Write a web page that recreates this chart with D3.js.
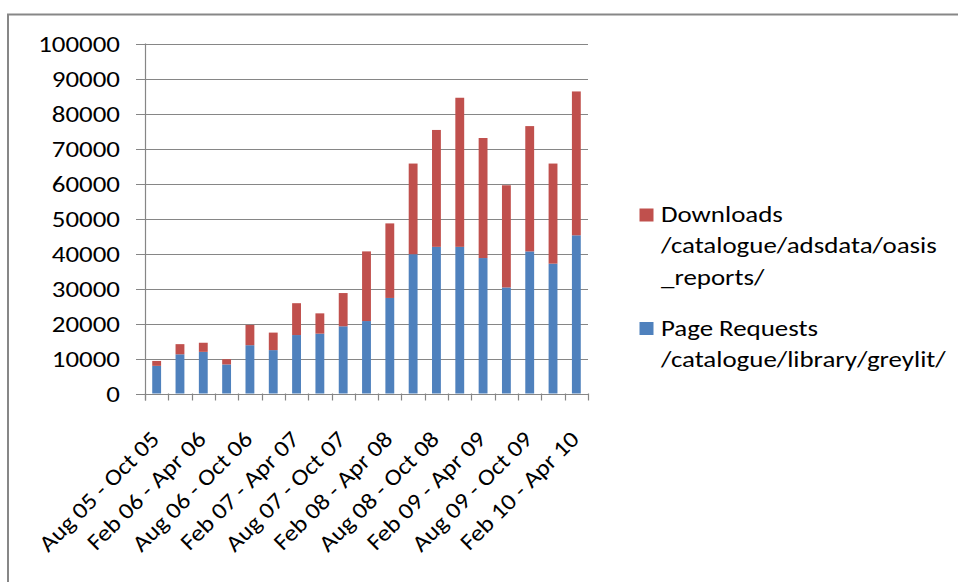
<!DOCTYPE html>
<html>
<head>
<meta charset="utf-8">
<script src="https://cdn.jsdelivr.net/npm/d3@7"></script>
<style>
  body { margin: 0; background: #fff; }
  text { font-family: Carlito, Calibri, Lato, sans-serif; fill: #000; }
</style>
</head>
<body>
<svg id="chart"></svg>
<script>
// quarters, Aug 05 - Oct 05 through Feb 10 - Apr 10
const periods = [
  "Aug 05 - Oct 05", "Nov 05 - Jan 06", "Feb 06 - Apr 06", "May 06 - Jul 06",
  "Aug 06 - Oct 06", "Nov 06 - Jan 07", "Feb 07 - Apr 07", "May 07 - Jul 07",
  "Aug 07 - Oct 07", "Nov 07 - Jan 08", "Feb 08 - Apr 08", "May 08 - Jul 08",
  "Aug 08 - Oct 08", "Nov 08 - Jan 09", "Feb 09 - Apr 09", "May 09 - Jul 09",
  "Aug 09 - Oct 09", "Nov 09 - Jan 10", "Feb 10 - Apr 10"
];
const pageRequests = [7900, 11200, 11900, 8300, 13800, 12400, 16700, 17100, 19200, 20700,
  27300, 39800, 41900, 41900, 38700, 30300, 40600, 37100, 45200];
const downloads = [1400, 2900, 2600, 1500, 5800, 5000, 9100, 5800, 9500, 19900,
  21300, 25900, 33400, 42600, 34300, 29200, 35800, 28600, 41100];
const yTicks = [0, 10000, 20000, 30000, 40000, 50000, 60000, 70000, 80000, 90000, 100000];

const seriesNames = ["Page Requests /catalogue/library/greylit/", "Downloads /catalogue/adsdata/oasis_reports/"];
const legendLines = {
  "Downloads /catalogue/adsdata/oasis_reports/": ["Downloads", "/catalogue/adsdata/oasis", "_reports/"],
  "Page Requests /catalogue/library/greylit/": ["Page Requests", "/catalogue/library/greylit/"]
};
const colors = { [seriesNames[0]]: "#4F81BD", [seriesNames[1]]: "#C0504D" };

const width = 958, height = 582;
const margin = { left: 145, top: 43.5, right: 370, bottom: 188.5 };
// the original text is a wide Calibri, so Lato gets stretched a bit
const textStretch = 1.17;

const svg = d3.select("#chart").attr("width", width).attr("height", height);

// chart area frame
svg.append("rect")
  .attr("x", 8).attr("y", 14.5)
  .attr("width", 1000).attr("height", 1000)
  .attr("fill", "none")
  .attr("stroke", "#878787")
  .attr("stroke-width", 2);

const table = periods.map((p, i) => ({ period: p, [seriesNames[0]]: pageRequests[i], [seriesNames[1]]: downloads[i] }));
const stacked = d3.stack().keys(seriesNames)(table);

const x = d3.scaleBand()
  .domain(periods)
  .range([margin.left, width - margin.right])
  .paddingInner(0.62)
  .paddingOuter(0.31);

const y = d3.scaleLinear()
  .domain([0, 100000])
  .range([height - margin.bottom, margin.top]);

const x0 = margin.left, x1 = width - margin.right, y0 = y(0);

// gridlines + y labels
const grid = svg.append("g");
grid.selectAll("line")
  .data(yTicks)
  .join("line")
  .attr("x1", x0 - 9).attr("x2", x1)
  .attr("y1", d => Math.round(y(d)) + 0.5)
  .attr("y2", d => Math.round(y(d)) + 0.5)
  .attr("stroke", "#868686")
  .attr("stroke-width", 1.2);

grid.selectAll("text")
  .data(yTicks)
  .join("text")
  .attr("transform", d => `translate(120,${y(d)}) scale(${textStretch},1)`)
  .attr("dy", "0.36em")
  .attr("text-anchor", "end")
  .style("font-size", "23px")
  .text(d => d);

// y axis line
svg.append("line")
  .attr("x1", x0 + 0.5).attr("x2", x0 + 0.5)
  .attr("y1", y(100000)).attr("y2", y0 + 7)
  .attr("stroke", "#868686").attr("stroke-width", 1.2);

// category ticks
const step = x.step();
svg.append("g").selectAll("line")
  .data(d3.range(periods.length + 1))
  .join("line")
  .attr("x1", i => Math.round(x0 + i * step) + 0.5)
  .attr("x2", i => Math.round(x0 + i * step) + 0.5)
  .attr("y1", y0).attr("y2", y0 + 7)
  .attr("stroke", "#868686").attr("stroke-width", 1.2);

// bars
svg.append("g")
  .selectAll("g")
  .data(stacked)
  .join("g")
  .attr("fill", d => colors[d.key])
  .selectAll("rect")
  .data(d => d)
  .join("rect")
  .attr("x", d => x(d.data.period))
  .attr("width", x.bandwidth())
  .attr("y", d => y(d[1]))
  .attr("height", d => y(d[0]) - y(d[1]));

// x labels, every second category
svg.append("g")
  .selectAll("text")
  .data(periods.filter((p, i) => i % 2 === 0))
  .join("text")
  .attr("transform", d => `translate(${x(d) + x.bandwidth() / 2 + 4},${y0 + 47}) rotate(-45) scale(1.11,1)`)
  .attr("text-anchor", "end")
  .style("font-size", "23px")
  .text(d => d);

// legend
const legendOrder = [seriesNames[1], seriesNames[0]];
const legendY = { [seriesNames[1]]: 222, [seriesNames[0]]: 335.5 };
const legend = svg.append("g");
legendOrder.forEach(name => {
  legend.append("rect")
    .attr("x", 639.5).attr("y", legendY[name] - 13.5)
    .attr("width", 14).attr("height", 13)
    .attr("fill", colors[name]);
  legend.append("text")
    .attr("transform", `translate(661,${legendY[name]}) scale(${textStretch},1)`)
    .style("font-size", "23px")
    .selectAll("tspan")
    .data(legendLines[name])
    .join("tspan")
    .attr("x", 0)
    .attr("dy", (d, i) => i === 0 ? 0 : 31.5)
    .text(d => d);
});
</script>
</body>
</html>
